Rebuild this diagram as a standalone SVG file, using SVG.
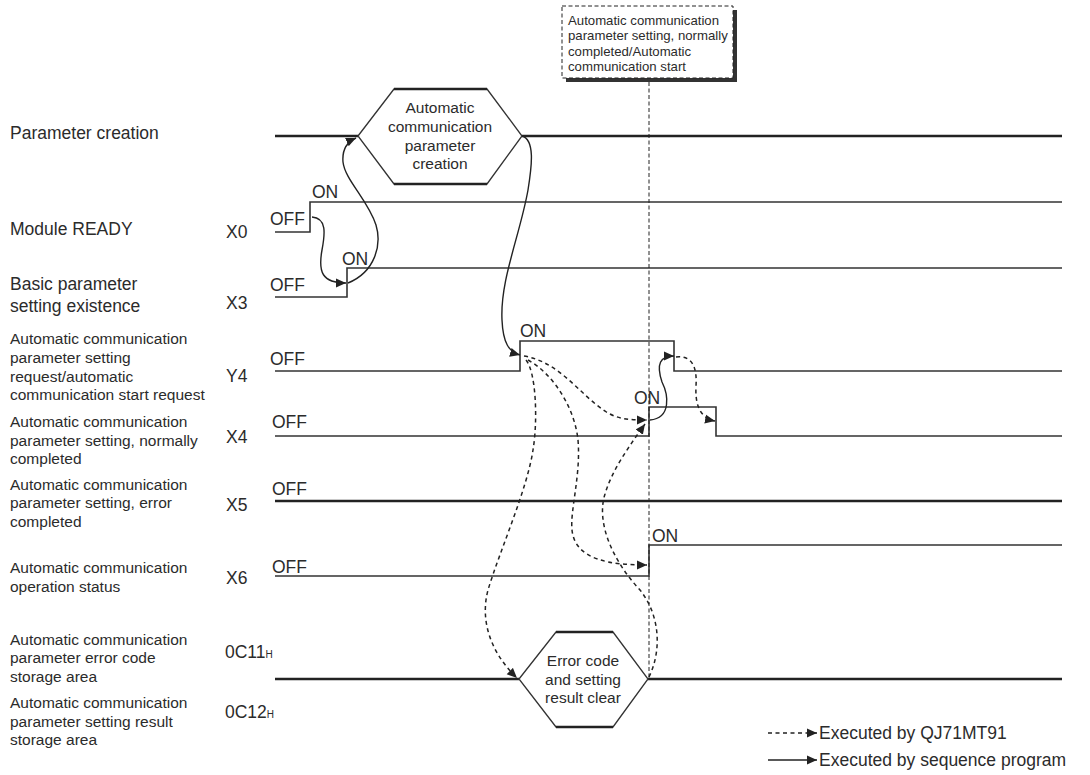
<svg xmlns="http://www.w3.org/2000/svg" width="1090" height="775" viewBox="0 0 1090 775">
<style>
text{font-family:"Liberation Sans",Arial,sans-serif;fill:#2b2b2b}
.big{font-size:17.5px}
.sm{font-size:15.5px}
.hx{font-size:15.5px;text-anchor:middle}
.co{font-size:13.2px}
.sig{fill:none;stroke:#333;stroke-width:1.6}
.thk{fill:none;stroke:#222;stroke-width:2.6}
.hex{fill:#fff;stroke:#333;stroke-width:1.3}
.cs{fill:none;stroke:#222;stroke-width:1.4}
.cd{fill:none;stroke:#222;stroke-width:1.5;stroke-dasharray:4 3.5}
.guide{fill:none;stroke:#222;stroke-width:1;stroke-dasharray:4 2.5}
</style>
<defs>
<marker id="ah" viewBox="0 0 10 10" refX="10" refY="5" markerWidth="10" markerHeight="10" markerUnits="userSpaceOnUse" orient="auto">
<path d="M0,0.5 L10,5 L0,9.5 Z" fill="#222"/>
</marker>
</defs>

<g id="labels">
<text class="big" x="10" y="139">Parameter creation</text>
<text class="big" x="10" y="235">Module READY</text>
<text class="big" x="226" y="238">X0</text>
<text class="big" x="10" y="290">Basic parameter</text>
<text class="big" x="10" y="312">setting existence</text>
<text class="big" x="226" y="309">X3</text>
<text class="sm" x="10" y="344">Automatic communication</text>
<text class="sm" x="10" y="363">parameter setting</text>
<text class="sm" x="10" y="381.5">request/automatic</text>
<text class="sm" x="10" y="400">communication start request</text>
<text class="big" x="226" y="382">Y4</text>
<text class="sm" x="10" y="427">Automatic communication</text>
<text class="sm" x="10" y="446">parameter setting, normally</text>
<text class="sm" x="10" y="464">completed</text>
<text class="big" x="226" y="443">X4</text>
<text class="sm" x="10" y="490">Automatic communication</text>
<text class="sm" x="10" y="508">parameter setting, error</text>
<text class="sm" x="10" y="527">completed</text>
<text class="big" x="226" y="511">X5</text>
<text class="sm" x="10" y="573">Automatic communication</text>
<text class="sm" x="10" y="592">operation status</text>
<text class="big" x="226" y="584">X6</text>
<text class="sm" x="10" y="645">Automatic communication</text>
<text class="sm" x="10" y="663">parameter error code</text>
<text class="sm" x="10" y="682">storage area</text>
<text class="big" x="225" y="658">0C11<tspan font-size="10">H</tspan></text>
<text class="sm" x="10" y="708">Automatic communication</text>
<text class="sm" x="10" y="727">parameter setting result</text>
<text class="sm" x="10" y="745">storage area</text>
<text class="big" x="225" y="718">0C12<tspan font-size="10">H</tspan></text>
</g>

<g id="param-creation">
<line class="thk" x1="275" y1="136" x2="358" y2="136"/>
<line class="thk" x1="522" y1="136" x2="1062" y2="136"/>
<polygon class="hex" points="358,136 394,89 487,89 522,136 487,184 394,184"/>
<line class="thk" x1="394" y1="89" x2="487" y2="89"/>
<line class="thk" x1="394" y1="184" x2="487" y2="184"/>
<text class="hx" x="440" y="113">Automatic</text>
<text class="hx" x="440" y="132">communication</text>
<text class="hx" x="440" y="150.5">parameter</text>
<text class="hx" x="440" y="169">creation</text>
</g>

<g id="x0">
<polyline class="sig" points="275,232 310,232 310,202 1062,202"/>
<text class="big" x="270" y="225">OFF</text>
<text class="big" x="312" y="198">ON</text>
</g>

<g id="x3">
<polyline class="sig" points="275,297 347,297 347,268 1062,268"/>
<text class="big" x="270" y="291">OFF</text>
<text class="big" x="342" y="265">ON</text>
</g>

<g id="y4">
<polyline class="sig" points="275,371 520,371 520,341 674,341 674,371 1062,371"/>
<text class="big" x="270" y="364.5">OFF</text>
<text class="big" x="520" y="337">ON</text>
</g>

<g id="x4">
<polyline class="sig" points="275,436 649,436 649,407 716,407 716,436 1062,436"/>
<text class="big" x="272" y="428">OFF</text>
<text class="big" x="634" y="404">ON</text>
</g>

<g id="x5">
<line class="thk" x1="275" y1="501" x2="1062" y2="501"/>
<text class="big" x="272" y="494.5">OFF</text>
</g>

<g id="x6">
<polyline class="sig" points="275,576 649,576 649,545 1062,545"/>
<text class="big" x="272" y="573">OFF</text>
<text class="big" x="652" y="542">ON</text>
</g>

<g id="error-clear">
<line class="thk" x1="275" y1="679" x2="519" y2="679"/>
<line class="thk" x1="648" y1="679" x2="1062" y2="679"/>
<polygon class="hex" points="519,679 556,632 613,632 648,679 613,727 556,727"/>
<line class="thk" x1="556" y1="632" x2="613" y2="632"/>
<line class="thk" x1="556" y1="727" x2="613" y2="727"/>
<text class="hx" x="583" y="666">Error code</text>
<text class="hx" x="583" y="685">and setting</text>
<text class="hx" x="583" y="703">result clear</text>
</g>

<g id="callout">
<rect x="566" y="10" width="171" height="72" fill="#333"/>
<rect x="562" y="6" width="171" height="72" fill="#fff" stroke="#222" stroke-width="1" stroke-dasharray="4 2.5"/>
<text class="co" x="568" y="24.5">Automatic communication</text>
<text class="co" x="568" y="40">parameter setting, normally</text>
<text class="co" x="568" y="55.5">completed/Automatic</text>
<text class="co" x="568" y="71">communication start</text>
<line class="guide" x1="649" y1="82" x2="649" y2="679"/>
</g>

<g id="connectors">
<path class="cs" marker-end="url(#ah)" d="M312,217 C327,218 325,234 322,250 C318,272 322,283 346,283"/>
<path class="cs" marker-end="url(#ah)" d="M348,283 C375,272 382,245 376,225 C368,200 345,180 343,162 C342,150 347,142 356,138"/>
<path class="cs" marker-end="url(#ah)" d="M522,136 C535,140 532,165 528,190 C520,235 500,280 502,320 C503,343 509,352 520,355"/>
<path class="cs" marker-end="url(#ah)" d="M650,420 C672,418 668,394 662,382 C656,364 660,356 674,356"/>
<path class="cd" marker-end="url(#ah)" d="M524,356 C560,362 580,395 605,411 C618,420 632,420 647,420"/>
<path class="cd" marker-end="url(#ah)" d="M526,360 C536,372 538,420 533,450 C527,490 500,550 488,590 C480,620 490,652 517,678"/>
<path class="cd" marker-end="url(#ah)" d="M528,360 C555,375 575,410 578,440 C581,475 570,510 572,530 C575,560 610,565 647,565"/>
<path class="cd" marker-end="url(#ah)" d="M649,677 C662,650 660,615 640,590 C612,560 596,522 605,494 C612,470 630,445 645,424"/>
<path class="cd" marker-end="url(#ah)" d="M676,357 C694,355 697,370 696,386 C695,405 700,418 715,421"/>
</g>

<g id="legend">
<line class="cd" x1="768" y1="733" x2="817" y2="733" marker-end="url(#ah)"/>
<text class="big" x="819" y="739">Executed by QJ71MT91</text>
<line class="cs" x1="768" y1="760" x2="817" y2="760" marker-end="url(#ah)"/>
<text class="big" x="819" y="766">Executed by sequence program</text>
</g>
</svg>
